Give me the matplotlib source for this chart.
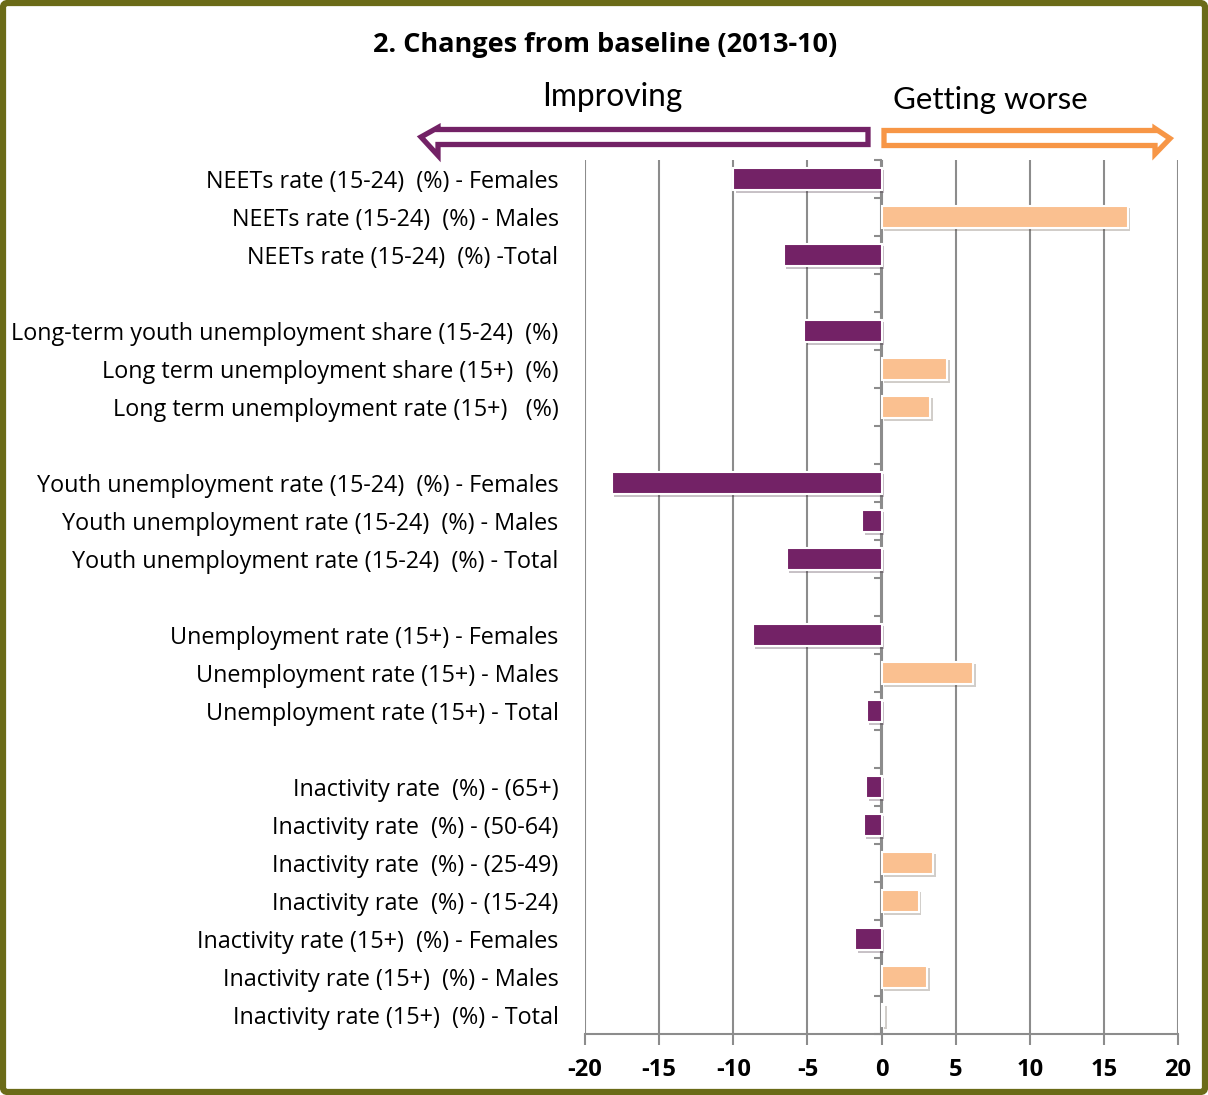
import numpy as np
import matplotlib
matplotlib.use("Agg")
import matplotlib.pyplot as plt
import matplotlib.patheffects as pe
from matplotlib.patches import Polygon, FancyBboxPatch
from matplotlib.transforms import Affine2D

# donnees
labels = [
    "NEETs rate (15-24)  (%) - Females",
    "NEETs rate (15-24)  (%) - Males",
    "NEETs rate (15-24)  (%) -Total",
    "Long-term youth unemployment share (15-24)  (%)",
    "Long term unemployment share (15+)  (%)",
    "Long term unemployment rate (15+)   (%)",
    "Youth unemployment rate (15-24)  (%) - Females",
    "Youth unemployment rate (15-24)  (%) - Males",
    "Youth unemployment rate (15-24)  (%) - Total",
    "Unemployment rate (15+) - Females",
    "Unemployment rate (15+) - Males",
    "Unemployment rate (15+) - Total",
    "Inactivity rate  (%) - (65+)",
    "Inactivity rate  (%) - (50-64)",
    "Inactivity rate  (%) - (25-49)",
    "Inactivity rate  (%) - (15-24)",
    "Inactivity rate (15+)  (%) - Females",
    "Inactivity rate (15+)  (%) - Males",
    "Inactivity rate (15+)  (%) - Total",
]
values = [-10.0, 16.6, -6.6,
          -5.2, 4.4, 3.3,
          -18.2, -1.3, -6.4,
          -8.7, 6.2, -1.0,
          -1.05, -1.2, 3.5, 2.5, -1.8, 3.1, 0.15]
group_sizes = [3, 3, 3, 3, 7]
x_ticks = [-20, -15, -10, -5, 0, 5, 10, 15, 20]

title = "2. Changes from baseline (2013-10)"
left_text = "Improving"
right_text = "Getting worse"

PURPLE = "#732266"
PEACH = "#FAC090"
ORANGE = "#F79646"
GRID = "#8C8C8C"
OLIVE = "#6B6B18"

W, H = 1208, 1095
fig = plt.figure(figsize=(W / 100, H / 100), dpi=100)
plt.rcParams["font.family"] = ["Open Sans", "DejaVu Sans"]

ax = fig.add_axes([585 / W, 1 - 1034 / H, 593 / W, 874 / H])

# positions avec un creneau vide apres chaque groupe
positions = []
slot = 0
for g in group_sizes:
    for k in range(g):
        positions.append(slot)
        slot += 1
    slot += 1
n_slots = slot - 1

colors = [PEACH if v > 0 else PURPLE for v in values]
bars = ax.barh(positions, values, height=0.6, color=colors,
               edgecolor="white", linewidth=1.5, zorder=3)
for b in bars:
    b.set_path_effects([pe.SimplePatchShadow(offset=(2, -2), alpha=0.25),
                        pe.Normal()])

ax.set_xlim(-20, 20)
ax.set_ylim(n_slots - 0.5, -0.5)
ax.set_xticks(x_ticks)
ax.set_xticklabels([str(t) for t in x_ticks], fontsize=17, fontweight="bold")
ax.set_yticks(positions)
ax.set_yticklabels(labels, fontsize=16.8)
ax.tick_params(axis="y", length=0, pad=19)
ax.tick_params(axis="x", length=8, width=1.5, color=GRID, direction="out", pad=9)
ax.xaxis.grid(True, color=GRID, linewidth=1.5, zorder=0)
ax.set_axisbelow(True)
for s in ["top", "left", "right"]:
    ax.spines[s].set_visible(False)
ax.spines["bottom"].set_color(GRID)
ax.spines["bottom"].set_linewidth(1.5)

# axe vertical a zero avec graduations entre categories
sec = ax.secondary_yaxis(0.49999)
sec.set_yticks(np.arange(-0.5, n_slots, 1.0))
sec.set_yticklabels([])
sec.tick_params(length=5, width=1.5, color=GRID, direction="out")
for s in sec.spines.values():
    s.set_color(GRID)
    s.set_linewidth(1.5)

# fleches et textes en pixels
px = Affine2D().scale(1 / W, -1 / H).translate(0, 1) + fig.transFigure
left_arrow = [(868, 129.5), (438, 129.5), (438, 127.5), (421, 137),
              (438, 155.5), (438, 144.5), (868, 144.5)]
right_arrow = [(884, 130.5), (1155, 130.5), (1155, 128.5), (1170, 138.5),
               (1155, 154), (1155, 145.5), (884, 145.5)]
fig.patches.append(Polygon(left_arrow, closed=True, facecolor="white",
                           edgecolor=PURPLE, linewidth=3.8, transform=px,
                           joinstyle="miter"))
fig.patches.append(Polygon(right_arrow, closed=True, facecolor="white",
                           edgecolor=ORANGE, linewidth=3.8, transform=px,
                           joinstyle="miter"))

fig.text(612 / W, 1 - 97 / H, left_text, fontsize=22.8, family=["Lato", "DejaVu Sans"],
         ha="center", va="center")
fig.text(990 / W, 1 - 100 / H, right_text, fontsize=22.5, family=["Lato", "DejaVu Sans"],
         ha="center", va="center")
fig.text(605 / W, 1 - 45 / H, title, fontsize=19.5, fontweight="bold",
         ha="center", va="center")

# cadre olive
fig.patches.append(FancyBboxPatch((3 / W, 3 / H), 1 - 6 / W, 1 - 6 / H,
                                  boxstyle="round,pad=0,rounding_size=0.004",
                                  transform=fig.transFigure, facecolor="none",
                                  edgecolor=OLIVE, linewidth=4.5))

fig.savefig("out.png", dpi=100)
